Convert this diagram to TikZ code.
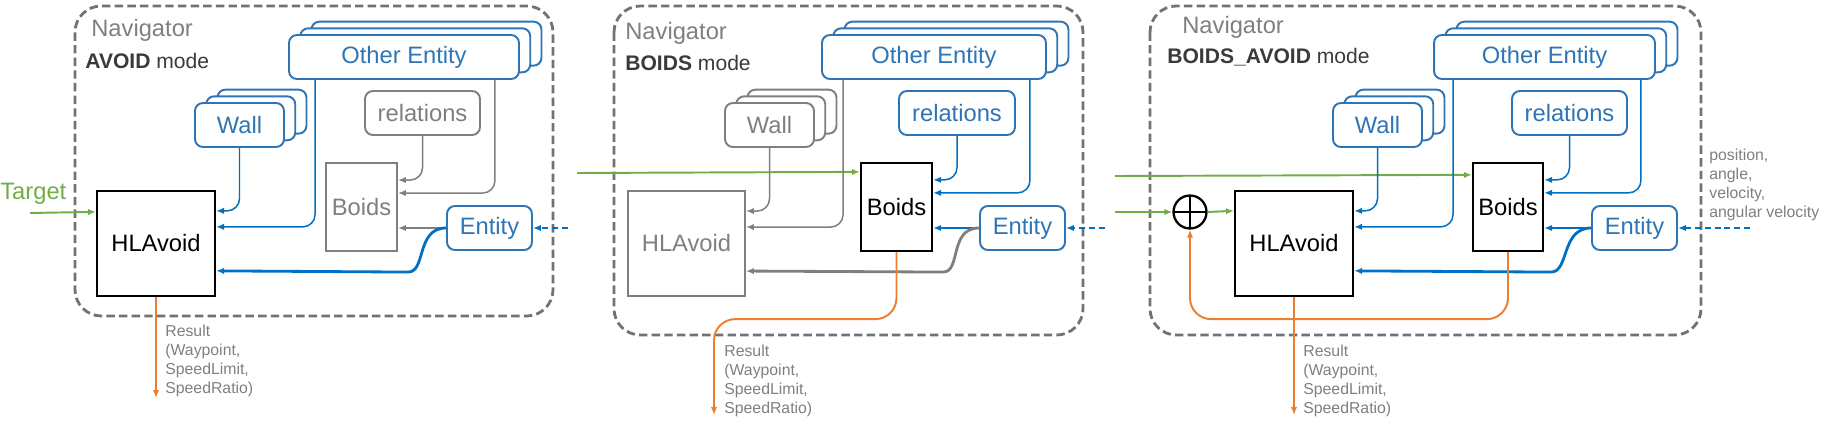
\documentclass[tikz,border=0pt]{standalone}
\usepackage{fontspec}
\setmainfont{Liberation Sans}
\usetikzlibrary{arrows.meta,calc,shadows}
\newcommand{\boxfont}{\fontsize{13.5}{16}\selectfont}
\newcommand{\notefont}{\fontsize{9}{10.8}\selectfont}
\definecolor{navblue}{HTML}{2E75B6}
\definecolor{navline}{HTML}{0070C0}
\definecolor{navgray}{HTML}{7F7F7F}
\definecolor{navgreen}{HTML}{70AD47}
\definecolor{navorange}{HTML}{ED7D31}
\definecolor{navink}{HTML}{3A3A3A}
\tikzset{
  frameBox/.style={draw=navgray!90!black, line width=1.6pt, dash pattern=on 4.8pt off 2.4pt, rounded corners=15pt},
  blueBox/.style={draw=navblue, line width=1.1pt, fill=white, rounded corners=4.5pt, text=navblue, font=\boxfont, minimum height=0.88cm, inner sep=0pt},
  grayBox/.style={blueBox, draw=navgray, text=navgray},
  blueStack/.style={blueBox, double copy shadow={shadow xshift=6.4pt, shadow yshift=3.8pt, draw=navblue, line width=1.1pt, fill=white}},
  grayStack/.style={grayBox, double copy shadow={shadow xshift=6.4pt, shadow yshift=3.8pt, draw=navgray, line width=1.1pt, fill=white}},
  blockBox/.style={draw=black, line width=1.3pt, fill=white, font=\boxfont, inner sep=0pt},
  grayBlock/.style={blockBox, draw=navgray, line width=1.1pt, text=navgray},
  sumNode/.style={circle, draw=black, line width=1.3pt, minimum size=0.66cm, inner sep=0pt,
    path picture={\draw[line width=1.1pt] (path picture bounding box.north) -- (path picture bounding box.south)
      (path picture bounding box.west) -- (path picture bounding box.east);}},
  navTitle/.style={anchor=west, inner sep=0pt, text=navgray, font=\boxfont},
  modeLabel/.style={anchor=west, inner sep=0pt, text=navink, font=\fontsize{12}{14}\selectfont},
  noteLabel/.style={anchor=north west, inner sep=0pt, text=navgray, font=\notefont, align=left},
  blueArrow/.style={-{Latex[length=4.5pt,width=3.6pt]}, draw=navline, line width=0.85pt, rounded corners=7pt},
  grayArrow/.style={blueArrow, draw=navgray},
  blueThick/.style={blueArrow, line width=1.6pt},
  grayThick/.style={grayArrow, line width=1.6pt},
  greenArrow/.style={-{Latex[length=4.5pt,width=3.6pt]}, draw=navgreen, line width=1.1pt},
  orangeArrow/.style={-{Latex[length=4.5pt,width=3.6pt]}, draw=navorange, line width=1.1pt, rounded corners=12pt},
  dashIn/.style={-{Latex[length=4.5pt,width=3.6pt]}, draw=navline, line width=1.5pt, dash pattern=on 3.4pt off 2.2pt}
}
\begin{document}
\begin{tikzpicture}[x=0.02cm, y=-0.02cm]
  \useasboundingbox (0,0) rectangle (1826,422);

  % AVOID
  \draw[frameBox] (75,6) rectangle (553,316);
  \node[navTitle] (nav1) at (91,30) {Navigator};
  \node[modeLabel] (mode1) at (85,61) {\textbf{AVOID} mode};
  \node[blueStack, minimum width=4.6cm] (oe1) at (404,57) {Other Entity};
  \node[blueStack, minimum width=1.78cm] (wa1) at (239.5,125) {Wall};
  \node[grayBox, minimum width=2.3cm] (re1) at (422.5,113) {relations};
  \node[grayBlock, minimum width=1.42cm, minimum height=1.76cm] (bo1) at (361.5,207) {Boids};
  \node[blockBox, minimum width=2.36cm, minimum height=2.1cm] (hl1) at (156,243.5) {HLAvoid};
  \node[blueBox, minimum width=1.7cm] (en1) at (489.5,228) {Entity};
  \node[anchor=west, inner sep=0pt, text=navgreen, font=\boxfont] (tg1) at (0,194) {Target};
  \coordinate (tgin1) at (30,213);
  \coordinate (in1) at (568,228);
  \coordinate (out1) at (156,398);
  \node[noteLabel] (res1) at (165,325) {Result\\(Waypoint,\\SpeedLimit,\\SpeedRatio)};

  \draw[greenArrow] (tgin1) -- ($(hl1.north west)+(0,22)$);
  \draw[blueArrow] (wa1.south) |- ($(hl1.north east)+(0,21)$);
  \draw[blueArrow] ($(oe1.south west)+(27,0)$) |- ($(hl1.north east)+(0,37)$);
  \draw[grayArrow] (re1.south) |- ($(bo1.north east)+(0,18)$);
  \draw[grayArrow] ($(oe1.south east)+(-25,0)$) |- ($(bo1.north east)+(0,31)$);
  \draw[grayThick] (en1.west) -- (en1.west -| bo1.east);
  \draw[blueThick] (en1.west) .. controls +(-30,0) and +(30,0) .. ++(-50,44) -- ($(hl1.north east)+(0,81)$);
  \draw[dashIn] (in1) -- (en1.east);
  \draw[orangeArrow] (hl1.south) -- (out1);

  % BOIDS
  \draw[frameBox] (614,6) rectangle (1083,335);
  \node[navTitle] (nav2) at (625,33) {Navigator};
  \node[modeLabel] (mode2) at (625,63) {\textbf{BOIDS} mode};
  \node[blueStack, minimum width=4.48cm] (oe2) at (934,57) {Other Entity};
  \node[grayStack, minimum width=1.78cm] (wa2) at (769.5,125) {Wall};
  \node[blueBox, minimum width=2.32cm] (re2) at (957,113) {relations};
  \node[blockBox, minimum width=1.42cm, minimum height=1.76cm] (bo2) at (896.5,207) {Boids};
  \node[grayBlock, minimum width=2.34cm, minimum height=2.1cm] (hl2) at (686.5,243.5) {HLAvoid};
  \node[blueBox, minimum width=1.7cm] (en2) at (1022.5,228) {Entity};
  \coordinate (tgin2) at (577,173);
  \coordinate (in2) at (1105,228);
  \coordinate (out2) at (714,415);
  \node[noteLabel] (res2) at (724,345) {Result\\(Waypoint,\\SpeedLimit,\\SpeedRatio)};

  \draw[greenArrow] (tgin2) -- ($(bo2.north west)+(0,10)$);
  \draw[grayArrow] (wa2.south) |- ($(hl2.north east)+(0,21)$);
  \draw[grayArrow] ($(oe2.south west)+(22,0)$) |- ($(hl2.north east)+(0,37)$);
  \draw[blueArrow] (re2.south) |- ($(bo2.north east)+(0,18)$);
  \draw[blueArrow] ($(oe2.south east)+(-17,0)$) |- ($(bo2.north east)+(0,31)$);
  \draw[blueThick] (en2.west) -- (en2.west -| bo2.east);
  \draw[grayThick] (en2.west) .. controls +(-30,0) and +(30,0) .. ++(-48,44) -- ($(hl2.north east)+(0,81)$);
  \draw[dashIn] (in2) -- (en2.east);
  \draw[orangeArrow] (bo2.south) -- ++(0,67) -| (out2);

  % BOIDS_AVOID
  \draw[frameBox] (1150,6) rectangle (1701,335);
  \node[navTitle] (nav3) at (1182,27) {Navigator};
  \node[modeLabel] (mode3) at (1167,57) {\textbf{BOIDS\_AVOID} mode};
  \node[blueStack, minimum width=4.42cm] (oe3) at (1544.5,57) {Other Entity};
  \node[blueStack, minimum width=1.78cm] (wa3) at (1377.5,125) {Wall};
  \node[blueBox, minimum width=2.3cm] (re3) at (1569.5,113) {relations};
  \node[blockBox, minimum width=1.4cm, minimum height=1.76cm] (bo3) at (1508,207) {Boids};
  \node[blockBox, minimum width=2.36cm, minimum height=2.1cm] (hl3) at (1294,243.5) {HLAvoid};
  \node[blueBox, minimum width=1.7cm] (en3) at (1634.5,228) {Entity};
  \node[sumNode] (sum3) at (1190,212) {};
  \coordinate (tgin3) at (1115,176);
  \coordinate (fbin3) at (1115,212);
  \coordinate (in3) at (1750,228);
  \coordinate (out3) at (1294,415);
  \node[noteLabel] (res3) at (1303,345) {Result\\(Waypoint,\\SpeedLimit,\\SpeedRatio)};
  \node[noteLabel] (state3) at (1709,149) {position,\\angle,\\velocity,\\angular velocity};

  \draw[greenArrow] (tgin3) -- ($(bo3.north west)+(0,13)$);
  \draw[greenArrow] (fbin3) -- (sum3.west);
  \draw[greenArrow] (sum3.east) -- ($(hl3.north west)+(0,21)$);
  \draw[blueArrow] (wa3.south) |- ($(hl3.north east)+(0,21)$);
  \draw[blueArrow] ($(oe3.south west)+(20,0)$) |- ($(hl3.north east)+(0,37)$);
  \draw[blueArrow] (re3.south) |- ($(bo3.north east)+(0,18)$);
  \draw[blueArrow] ($(oe3.south east)+(-15,0)$) |- ($(bo3.north east)+(0,31)$);
  \draw[blueThick] (en3.west) -- (en3.west -| bo3.east);
  \draw[blueThick] (en3.west) .. controls +(-30,0) and +(30,0) .. ++(-52,44) -- ($(hl3.north east)+(0,81)$);
  \draw[dashIn] (in3) -- (en3.east);
  \draw[orangeArrow] (bo3.south) -- ++(0,67) -| (sum3.south);
  \draw[orangeArrow] (hl3.south) -- (out3);
\end{tikzpicture}
\end{document}
